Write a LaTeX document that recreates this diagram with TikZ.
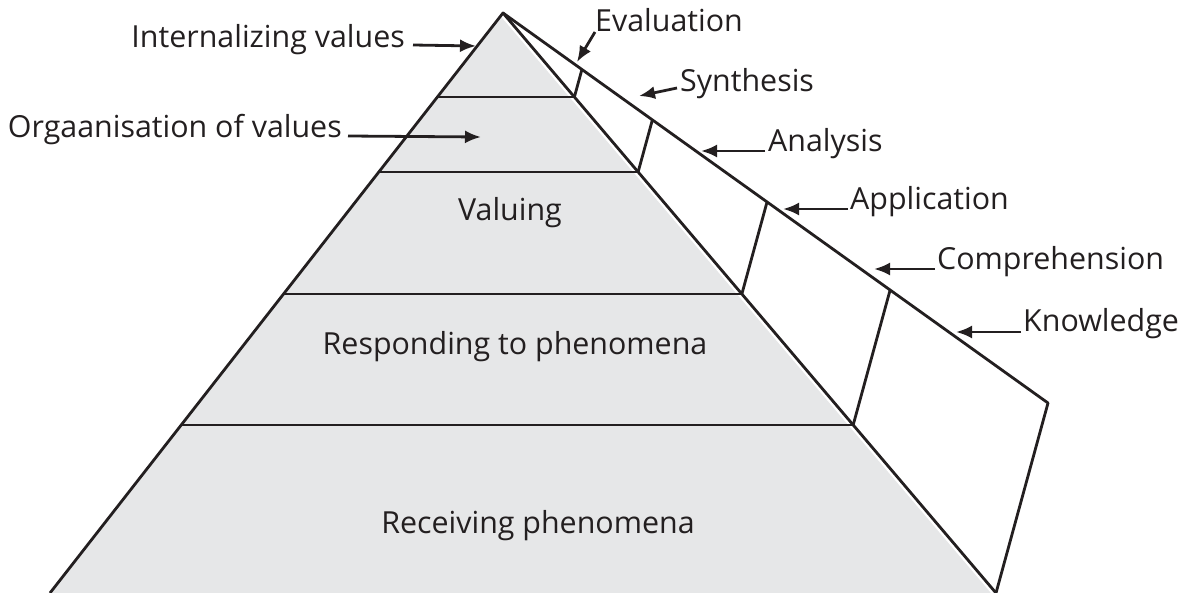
\documentclass[tikz,border=0pt]{standalone}
\usepackage{fontspec}
\setmainfont{Open Sans}
\usetikzlibrary{arrows.meta,calc}
\definecolor{ink}{HTML}{231F20}
\definecolor{pyr}{HTML}{E6E7E8}
\begin{document}
\begin{tikzpicture}[x=1bp,y=-1bp,
  edge/.style={draw=ink,line width=2.8bp,line join=round},
  arr/.style={draw=ink,line width=2.8bp,-{Latex[length=16bp,width=13bp]}},
  lbl/.style={text=ink,font=\fontsize{30.5}{36}\selectfont,inner sep=0pt}]
\useasboundingbox (0,0) rectangle (1185,593);
% main points
\coordinate (A) at (503,13);
\coordinate (BL) at (50,593);
\coordinate (BR) at (996,593);
\coordinate (OR) at (1048,403);
% pyramid fill
\fill[pyr] (A) -- (BL) -- (BR) -- cycle;
\draw[white,line width=7.5bp] (A) -- (BR);
% band points
\foreach \t/\n in {0.1448/1,0.2741/2,0.4845/3,0.7103/4}{
  \coordinate (L\n) at ($(A)!\t!(BL)$);
  \coordinate (R\n) at ($(A)!\t!(BR)$);
  \coordinate (O\n) at ($(A)!\t!(OR)$);
}
% edges
\draw[edge] (BL) -- (A) -- (BR);
\draw[edge] (A) -- (OR) -- (BR);
\foreach \n in {1,2,3,4}{
  \draw[edge] (L\n) -- (R\n);
  \draw[edge] (R\n) -- (O\n);
}
% band labels
\node[lbl,anchor=base] (val) at (510,221) {Valuing};
\node[lbl,anchor=base] (res) at (515,355) {Responding to phenomena};
\node[lbl,anchor=base] (rec) at (538,533) {Receiving phenomena};
% side labels
\node[lbl,anchor=base east] (tInt) at (405,48) {Internalizing values};
\node[lbl,anchor=base east] (tOrg) at (342,138) {Orgaanisation of values};
\node[lbl,anchor=base west] (tEva) at (595,32) {Evaluation};
\node[lbl,anchor=base west] (tSyn) at (680,92) {Synthesis};
\node[lbl,anchor=base west] (tAna) at (768,152) {Analysis};
\node[lbl,anchor=base west] (tApp) at (850,210) {Application};
\node[lbl,anchor=base west] (tCom) at (937,270) {Comprehension};
\node[lbl,anchor=base west] (tKno) at (1023,332) {Knowledge};
% arrow tips
\coordinate (pInt) at (476,46);
\coordinate (pOrg) at (481,137);
\coordinate (pEva) at (577,62);
\coordinate (pSyn) at (639,96);
\coordinate (pAna) at (701,151);
\coordinate (pApp) at (783,209);
\coordinate (pCom) at (874,269);
\coordinate (pKno) at (956,332);
% arrows
\draw[arr] ([xshift=8bp,yshift=3bp]tInt.base east) -- (pInt);
\draw[arr] ([xshift=6bp,yshift=2bp]tOrg.base east) -- (pOrg);
\draw[arr] ([xshift=0bp,yshift=0bp]tEva.base west) -- (pEva);
\draw[arr] ([xshift=-3bp,yshift=4bp]tSyn.base west) -- (pSyn);
\draw[arr] ([xshift=-3bp,yshift=1bp]tAna.base west) -- (pAna);
\draw[arr] ([xshift=-2bp,yshift=1bp]tApp.base west) -- (pApp);
\draw[arr] ([xshift=-2bp,yshift=1bp]tCom.base west) -- (pCom);
\draw[arr] ([xshift=-2bp,yshift=0bp]tKno.base west) -- (pKno);
\end{tikzpicture}
\end{document}
